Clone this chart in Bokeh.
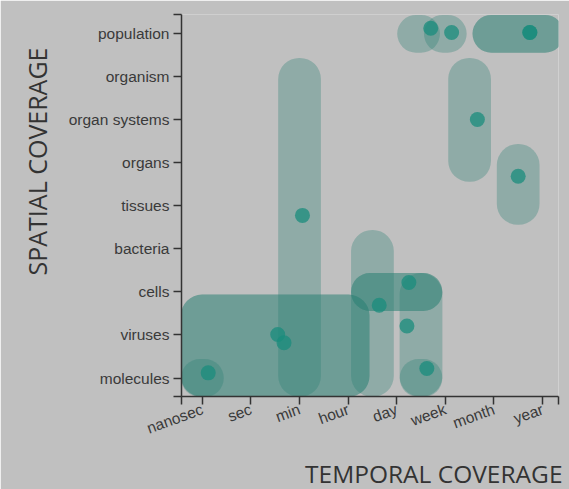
from bokeh.plotting import figure
from bokeh.models import FixedTicker, CustomJSTickFormatter, Title, ColumnDataSource, Range1d
from bokeh.embed import file_html
from bokeh.resources import INLINE

# ---- data ----
time_labels = ["nanosec", "sec", "min", "hour", "day", "week", "month", "year"]
space_labels = ["molecules", "viruses", "cells", "bacteria", "tissues",
                "organs", "organ systems", "organism", "population"]

# coverage of each study (category index units): time start/end, space start/end
cov_t_start = [0, 0, 0, 2, 3.5, 3.5, 3.5, 4.5, 4.5, 4.45, 5.0, 6, 6, 5.5, 6.5]
cov_t_end   = [3, 3, 0, 2, 3.5, 4.5, 4.5, 4.5, 4.5, 4.45, 5.0, 7, 7, 5.5, 6.5]
cov_s_start = [0, 0, 0, 0, 0,   2,   2,   0,   0,   8,    8,   8, 8, 5,   4]
cov_s_end   = [1.5, 1.5, 0, 7, 3, 2, 2,   2,   0,   8,    8,   8, 8, 7,   5]

# individual measurements
pt_time  = [0.12, 2.06, 1.55, 1.68, 3.64, 4.25, 4.21, 4.62, 4.70, 5.13, 6.74, 6.74, 5.66, 6.50]
pt_space = [0.12, 3.78, 1.01, 0.82, 1.69, 2.22, 1.21, 0.22, 8.13, 8.03, 8.03, 8.03, 6.01, 4.69]

# ---- style ----
PAD = 0.44
TEAL = "#288073"
DOT = "#1a8c7c"
BG = "#c0c0c0"
AXIS = "#333333"

x_lo, x_hi = -0.43, 7.33
y_lo, y_hi = -0.43, 8.45

p = figure(frame_width=377, frame_height=382,
           min_border_left=181, min_border_right=11,
           min_border_top=14, min_border_bottom=93,
           x_range=Range1d(x_lo, x_hi), y_range=Range1d(y_lo, y_hi),
           output_backend="svg", toolbar_location=None)
p.background_fill_color = BG
p.border_fill_color = BG
p.outline_line_color = None
p.grid.visible = False

cov = ColumnDataSource(dict(
    left=[t - PAD for t in cov_t_start], right=[t + PAD for t in cov_t_end],
    bottom=[s - PAD for s in cov_s_start], top=[s + PAD for s in cov_s_end]))
p.quad(left="left", right="right", bottom="bottom", top="top", source=cov,
       border_radius=21, fill_color=TEAL, fill_alpha=0.32, line_color=None)

pts = ColumnDataSource(dict(x=pt_time, y=pt_space))
p.scatter(x="x", y="y", source=pts, size=15, fill_color=DOT, fill_alpha=0.75,
          line_color=None)

# axes
p.xaxis.ticker = FixedTicker(ticks=[x_lo] + list(range(len(time_labels))) + [x_hi])
p.yaxis.ticker = FixedTicker(ticks=[y_lo] + list(range(len(space_labels))) + [y_hi])
code = """
const i = Math.round(tick);
return (Math.abs(tick - i) < 1e-6 && i >= 0 && i < labels.length) ? labels[i] : "";
"""
p.xaxis.formatter = CustomJSTickFormatter(args=dict(labels=time_labels), code=code)
p.yaxis.formatter = CustomJSTickFormatter(args=dict(labels=space_labels), code=code)
for ax in (p.xaxis, p.yaxis):
    ax.axis_line_color = AXIS
    ax.axis_line_width = 1.5
    ax.major_tick_line_color = AXIS
    ax.major_tick_line_width = 1.5
    ax.major_tick_out = 8
    ax.major_tick_in = 0
    ax.minor_tick_line_color = None
    ax.major_label_text_font = "Liberation Sans"
    ax.major_label_text_font_size = "15.5px"
    ax.major_label_text_color = "#3a3a3a"
    ax.major_label_standoff = 4
p.xaxis.major_label_orientation = 0.35

p.add_layout(Title(text="TEMPORAL COVERAGE", align="right", offset=-4, standoff=15,
                   text_font="Open Sans", text_font_size="24.5px",
                   text_font_style="normal", text_color="#333333"), "below")
p.add_layout(Title(text="SPATIAL COVERAGE", align="right", offset=33, standoff=23,
                   text_font="Open Sans", text_font_size="25px",
                   text_font_style="normal", text_color="#333333"), "left")

open("out.html", "w").write(file_html(p, INLINE))
